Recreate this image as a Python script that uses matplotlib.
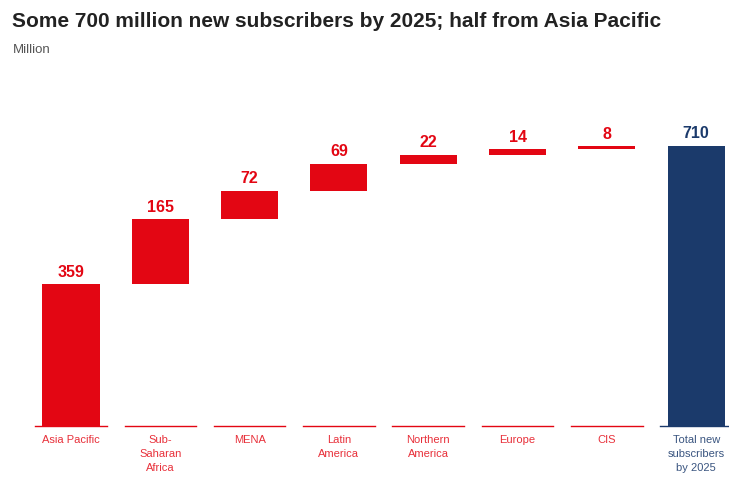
import matplotlib.pyplot as plt

plt.rcParams['font.family'] = ['Liberation Sans', 'DejaVu Sans']

categories = ['Asia Pacific', 'Sub-\nSaharan\nAfrica', 'MENA', 'Latin\nAmerica',
              'Northern\nAmerica', 'Europe', 'CIS', 'Total new\nsubscribers\nby 2025']
values = [359, 165, 72, 69, 22, 14, 8]
total = 710

red = '#E30613'
navy = '#1B3A6B'

fig = plt.figure(figsize=(7.29, 4.88), dpi=100)
ax = fig.add_axes([0, 0, 1, 1])

# waterfall bottoms
bottoms = []
run = 0
for v in values:
    bottoms.append(run)
    run += v

xs = list(range(len(values)))
ax.bar(xs, values, bottom=bottoms, width=0.64, color=red, linewidth=0)
ax.bar(len(values), total, width=0.64, color=navy, linewidth=0)

for x, v, b in zip(xs, values, bottoms):
    ax.text(x, b + v + 12, str(v), ha='center', va='bottom', color=red,
            fontsize=11.5, fontweight='bold')
ax.text(len(values), total + 12, str(total), ha='center', va='bottom', color=navy,
        fontsize=11.5, fontweight='bold')

# baseline segments per category
for i in range(len(categories)):
    c = '#E8303A' if i < len(values) else '#3A5580'
    ax.plot([i - 0.4, i + 0.4], [0, 0], color=red if i < len(values) else navy, lw=1)
    ax.text(i, -22, categories[i], ha='center', va='top', color=c,
            fontsize=8, linespacing=1.55)

ax.set_xlim(-0.795, 7.368)
ax.set_ylim(-157.2, 1080)
ax.axis('off')

fig.text(0.016, 0.956, 'Some 700 million new subscribers by 2025; half from Asia Pacific',
         fontsize=15, fontweight='bold', color='#222222', va='center', ha='left')
fig.text(0.018, 0.897, 'Million', fontsize=9.5, color='#555555', va='center', ha='left')

fig.savefig('out.png', dpi=100)
